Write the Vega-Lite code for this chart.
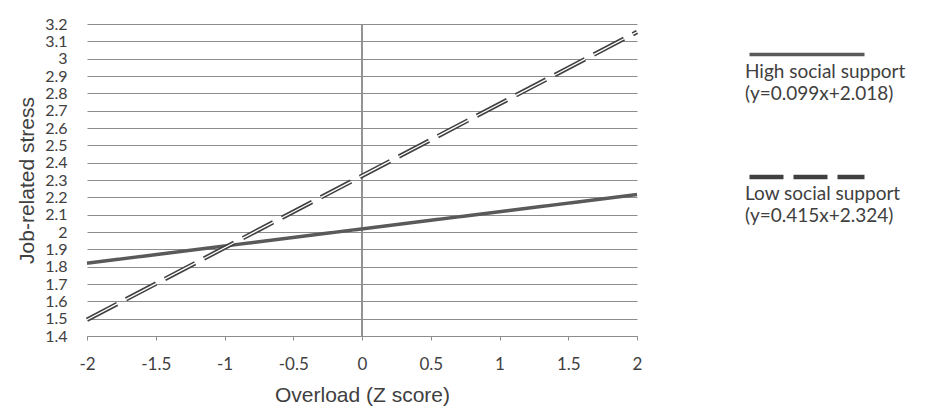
{
  "$schema": "https://vega.github.io/schema/vega-lite/v6.json",
  "width": 550,
  "height": 312,
  "autosize": "none",
  "padding": {"left": 87, "top": 24, "right": 300, "bottom": 77},
  "background": "white",
  "config": {"view": {"stroke": null}},
  "data": {"values": [
    {"x": -2, "y": 1.82, "series": "High"},
    {"x": 2, "y": 2.216, "series": "High"},
    {"x": -2, "y": 1.494, "series": "Low"},
    {"x": 2, "y": 3.154, "series": "Low"}
  ]},
  "encoding": {
    "x": {"field": "x", "type": "quantitative",
      "scale": {"domain": [-2, 2], "nice": false, "zero": false},
      "axis": {"title": "Overload (Z score)", "values": [-2, -1.5, -1, -0.5, 0, 0.5, 1, 1.5, 2],
        "labelExpr": "'' + datum.value", "grid": false, "domain": true, "domainColor": "#8c8c8c",
        "ticks": true, "tickSize": 4, "tickColor": "#8c8c8c", "labelPadding": 16,
        "labelFont": "Lato", "labelFontSize": 17, "labelColor": "#404040", "labelFlush": false,
        "titleFont": "Liberation Sans", "titleFontSize": 21, "titleFontWeight": "normal", "titleColor": "#404040", "titlePadding": 12}},
    "y": {"field": "y", "type": "quantitative",
      "scale": {"domain": [1.4, 3.2], "nice": false, "zero": false},
      "axis": {"title": "Job-related stress",
        "values": [1.4, 1.5, 1.6, 1.7, 1.8, 1.9, 2, 2.1, 2.2, 2.3, 2.4, 2.5, 2.6, 2.7, 2.8, 2.9, 3, 3.1, 3.2],
        "format": ".1~f", "grid": true, "gridColor": "#8c8c8c", "gridWidth": 1, "domain": false, "ticks": false,
        "labelPadding": 20, "labelFont": "Lato", "labelFontSize": 16, "labelColor": "#404040",
        "titleFont": "Liberation Sans", "titleFontSize": 21, "titleFontWeight": "normal", "titleColor": "#404040", "titlePadding": 7}}
  },
  "layer": [
    {"mark": {"type": "rule", "color": "#8c8c8c", "strokeWidth": 1},
     "encoding": {"x": {"datum": 0}, "y": null}},
    {"mark": {"type": "line", "strokeCap": "butt"},
     "encoding": {
       "color": {"field": "series", "type": "nominal",
         "scale": {"domain": ["High", "Low"], "range": ["#5a5a5a", "#404040"]},
         "legend": {"orient": "none", "legendX": 660, "legendY": -29, "title": null, "padding": 0,
           "symbolType": "stroke", "symbolSize": 13225, "symbolStrokeWidth": 3.5,
           "labelOffset": -122, "labelBaseline": "top", "rowPadding": 13,
           "labelFont": "Lato", "labelFontSize": 19, "labelColor": "#404040", "labelLimit": 300,
           "labelExpr": "datum.label == 'High' ? ['High social support', '(y=0.099x+2.018)'] : ['Low social support', '(y=0.415x+2.324)']",
           "encode": {"labels": {"update": {"dy": {"value": 8}, "lineHeight": {"value": 22}}}}}},
       "strokeDash": {"field": "series", "type": "nominal",
         "scale": {"domain": ["High", "Low"], "range": [[1, 0], [34, 10]]}},
       "strokeWidth": {"field": "series", "type": "nominal",
         "scale": {"domain": ["High", "Low"], "range": [3.5, 4.5]}, "legend": null}
     }},
    {"transform": [{"filter": "datum.series == 'Low'"}],
     "mark": {"type": "line", "color": "white", "strokeWidth": 1.3, "strokeDash": [34, 10], "strokeCap": "butt"},
     "encoding": {}}
  ]
}
